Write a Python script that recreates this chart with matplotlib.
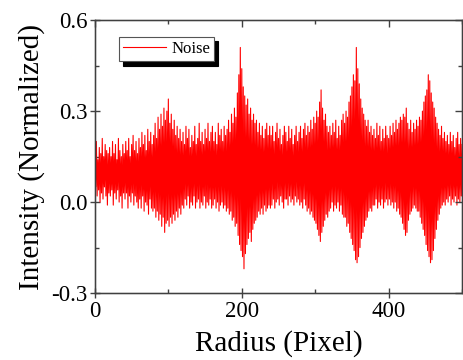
import numpy as np
import matplotlib
matplotlib.use("Agg")
import matplotlib.pyplot as plt

# noise trace, one value per pixel of radius
# (alternating spike tops / spike bottoms), 20 px of radius per row
intensity = [
    0.17, 0.05, 0.20, 0.02, 0.14, 0.04, 0.18, 0.00, 0.16, 0.03, 0.21, 0.01, 0.15, 0.05, 0.19, 0.02, 0.17, -0.01, 0.16, 0.03,
    0.18, 0.02, 0.15, 0.04, 0.20, -0.01, 0.16, 0.03, 0.19, 0.01, 0.14, 0.04, 0.21, 0.00, 0.17, 0.02, 0.15, -0.02, 0.19, 0.03,
    0.16, 0.01, 0.20, 0.03, 0.17, -0.02, 0.21, 0.02, 0.15, 0.00, 0.19, 0.03, 0.22, -0.01, 0.17, 0.02, 0.20, 0.00, 0.16, -0.02,
    0.21, 0.01, 0.18, -0.02, 0.23, 0.02, 0.19, -0.03, 0.22, 0.00, 0.17, -0.01, 0.24, -0.04, 0.20, 0.01, 0.23, -0.02, 0.19, -0.03,
    0.22, -0.02, 0.26, -0.05, 0.21, -0.03, 0.28, -0.06, 0.24, -0.04, 0.29, -0.08, 0.25, -0.05, 0.31, -0.10, 0.27, -0.07, 0.30, -0.06,
    0.34, -0.08, 0.26, -0.05, 0.29, -0.07, 0.24, -0.04, 0.27, -0.06, 0.22, -0.03, 0.25, -0.05, 0.21, -0.02, 0.24, -0.04, 0.20, -0.01,
    0.23, -0.02, 0.19, 0.01, 0.25, -0.01, 0.21, 0.02, 0.24, -0.02, 0.18, 0.00, 0.22, -0.01, 0.20, 0.02, 0.25, -0.02, 0.19, 0.00,
    0.21, 0.01, 0.26, -0.02, 0.20, 0.00, 0.23, -0.01, 0.19, 0.02, 0.24, -0.02, 0.21, 0.00, 0.26, -0.01, 0.20, 0.01, 0.23, -0.02,
    0.25, -0.01, 0.20, 0.01, 0.23, -0.02, 0.19, 0.00, 0.26, -0.03, 0.22, -0.01, 0.24, 0.00, 0.20, -0.02, 0.25, -0.01, 0.22, -0.03,
    0.24, -0.02, 0.27, -0.04, 0.23, -0.03, 0.29, -0.06, 0.26, -0.05, 0.31, -0.08, 0.28, -0.07, 0.36, -0.11, 0.42, -0.14, 0.51, -0.16,
    0.44, -0.18, 0.38, -0.22, 0.35, -0.17, 0.32, -0.14, 0.34, -0.12, 0.29, -0.10, 0.31, -0.13, 0.27, -0.09, 0.29, -0.07, 0.26, -0.06,
    0.27, -0.05, 0.23, -0.03, 0.26, -0.04, 0.22, -0.02, 0.25, -0.04, 0.21, -0.01, 0.24, -0.03, 0.26, -0.02, 0.22, -0.01, 0.25, -0.02,
    0.22, -0.01, 0.25, 0.01, 0.20, -0.02, 0.23, 0.00, 0.26, 0.01, 0.21, -0.01, 0.24, 0.02, 0.19, 0.00, 0.22, -0.02, 0.25, 0.01,
    0.23, 0.01, 0.20, -0.01, 0.25, 0.02, 0.21, 0.00, 0.24, 0.01, 0.19, -0.01, 0.22, 0.02, 0.25, 0.00, 0.20, 0.01, 0.23, -0.01,
    0.25, 0.00, 0.21, -0.02, 0.24, 0.01, 0.26, -0.01, 0.22, -0.03, 0.25, -0.02, 0.23, -0.04, 0.27, -0.03, 0.24, -0.05, 0.28, -0.06,
    0.26, -0.07, 0.30, -0.09, 0.28, -0.11, 0.33, -0.13, 0.37, -0.10, 0.31, -0.08, 0.27, -0.06, 0.29, -0.04, 0.25, -0.05, 0.23, -0.03,
    0.25, -0.02, 0.22, 0.00, 0.26, -0.03, 0.23, -0.01, 0.27, -0.02, 0.21, 0.00, 0.25, -0.03, 0.22, -0.01, 0.27, -0.04, 0.29, -0.05,
    0.26, -0.05, 0.30, -0.08, 0.28, -0.07, 0.33, -0.10, 0.35, -0.12, 0.38, -0.14, 0.42, -0.16, 0.40, -0.19, 0.51, -0.20, 0.44, -0.18,
    0.39, -0.15, 0.34, -0.12, 0.31, -0.10, 0.29, -0.08, 0.27, -0.06, 0.25, -0.05, 0.27, -0.03, 0.23, -0.02, 0.25, -0.03, 0.22, -0.01,
    0.24, -0.01, 0.21, 0.01, 0.26, -0.02, 0.22, 0.00, 0.25, -0.01, 0.20, 0.01, 0.24, -0.02, 0.21, 0.00, 0.25, 0.01, 0.22, -0.01,
    0.21, 0.01, 0.25, -0.01, 0.22, 0.00, 0.26, -0.02, 0.23, 0.00, 0.27, -0.03, 0.24, -0.02, 0.26, -0.04, 0.28, -0.05, 0.27, -0.07,
    0.29, -0.09, 0.28, -0.11, 0.31, -0.10, 0.26, -0.06, 0.24, -0.04, 0.27, -0.03, 0.23, -0.02, 0.26, -0.01, 0.24, -0.02, 0.27, -0.03,
    0.25, -0.03, 0.28, -0.05, 0.27, -0.07, 0.30, -0.09, 0.33, -0.11, 0.35, -0.14, 0.37, -0.16, 0.42, -0.18, 0.40, -0.20, 0.36, -0.19,
    0.33, -0.16, 0.31, -0.12, 0.28, -0.09, 0.26, -0.06, 0.24, -0.04, 0.22, -0.02, 0.25, -0.01, 0.21, 0.00, 0.23, -0.01, 0.20, 0.01,
    0.22, 0.00, 0.19, 0.02, 0.23, -0.01, 0.20, 0.01, 0.22, 0.00, 0.18, 0.02, 0.21, -0.01, 0.23, 0.01, 0.19, 0.00, 0.21, 0.02,
    0.19,
]
radius = np.arange(len(intensity))

y_ticks = [-0.3, 0.0, 0.3, 0.6]
y_labels = ["-0.3", "0.0", "0.3", "0.6"]
y_minor = [-0.15, 0.15, 0.45]
x_ticks = [0, 200, 400]
x_minor = [100, 300, 500]

plt.rcParams["font.family"] = ["Liberation Serif", "DejaVu Serif"]
axis_color = "#404040"

fig = plt.figure(figsize=(4.63, 3.6), dpi=100)
ax = fig.add_axes([0.205, 0.186, 0.793, 0.758])

ax.plot(radius, intensity, color="red", lw=0.8, label="Noise")

ax.set_xlim(0, 500)
ax.set_ylim(-0.3, 0.6)
ax.set_xticks(x_ticks)
ax.set_xticks(x_minor, minor=True)
ax.set_yticks(y_ticks)
ax.set_yticklabels(y_labels)
ax.set_yticks(y_minor, minor=True)

for s in ax.spines.values():
    s.set_color(axis_color)
    s.set_linewidth(1.0)

ax.tick_params(which="both", color=axis_color, labelsize=16.5, pad=2, width=1)
ax.tick_params(which="major", direction="inout", length=7)
ax.tick_params(which="minor", direction="in", length=3)

ax.set_xlabel("Radius (Pixel)", fontsize=21, labelpad=6)
ax.set_ylabel("Intensity (Normalized)", fontsize=21, labelpad=4)

leg = ax.legend(loc="upper left", bbox_to_anchor=(0.065, 0.938),
                borderaxespad=0, fontsize=12, handlelength=2.6,
                handletextpad=0.3, borderpad=0.25, fancybox=False,
                shadow={"color": "black", "alpha": 1, "ox": 3, "oy": -3})
leg.get_frame().set_edgecolor("#555555")
leg.get_frame().set_linewidth(0.8)

# inward ticks on the right and top frame, no labels
ax2 = ax.twinx()
ax2.set_ylim(ax.get_ylim())
ax2.set_yticks(y_ticks)
ax2.set_yticks(y_minor, minor=True)
ax2.tick_params(which="both", direction="in", labelright=False,
                color=axis_color, width=1)
ax2.tick_params(which="major", length=5)
ax2.tick_params(which="minor", length=3)
ax3 = ax.twiny()
ax3.set_xlim(ax.get_xlim())
ax3.set_xticks(x_ticks)
ax3.set_xticks(x_minor, minor=True)
ax3.tick_params(which="both", direction="in", labeltop=False,
                color=axis_color, width=1)
ax3.tick_params(which="major", length=5)
ax3.tick_params(which="minor", length=3)
for a in (ax2, ax3):
    for s in a.spines.values():
        s.set_color(axis_color)

fig.savefig("out.png", dpi=100)
